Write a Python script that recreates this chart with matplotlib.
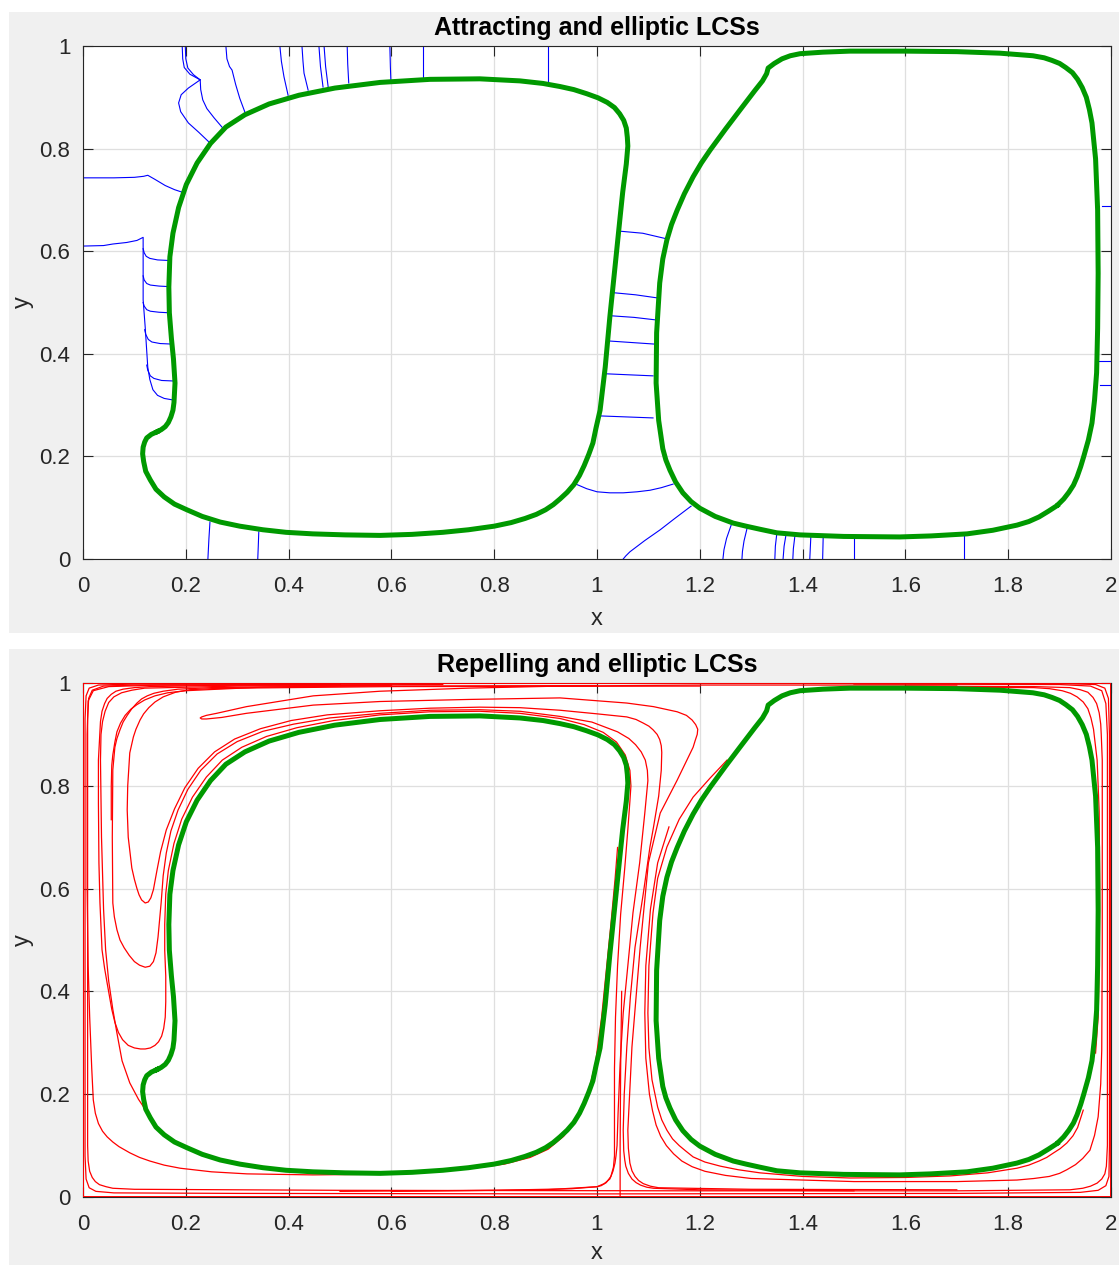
import matplotlib
matplotlib.use('Agg')
import matplotlib.pyplot as plt
from matplotlib.patches import Rectangle

plt.rcParams['font.family'] = ['Liberation Sans', 'DejaVu Sans']

# ---- elliptic LCSs (green closed curves), same in both panels ----
green_left = [(0.144, 0.248), (0.152, 0.252), (0.160, 0.258), (0.166, 0.266), (0.171, 0.277),
              (0.175, 0.290), (0.177, 0.305), (0.179, 0.343), (0.176, 0.390), (0.172, 0.430),
              (0.168, 0.480), (0.167, 0.530), (0.169, 0.589), (0.175, 0.635), (0.186, 0.685),
              (0.201, 0.730), (0.222, 0.772), (0.248, 0.810), (0.278, 0.842), (0.315, 0.866),
              (0.362, 0.887), (0.420, 0.904), (0.490, 0.918), (0.578, 0.929), (0.675, 0.935),
              (0.772, 0.936), (0.850, 0.932), (0.895, 0.927), (0.928, 0.921), (0.955, 0.915),
              (0.980, 0.907), (1.002, 0.899), (1.020, 0.890), (1.034, 0.880), (1.044, 0.868),
              (1.052, 0.855), (1.057, 0.840), (1.059, 0.822), (1.060, 0.805), (1.057, 0.770),
              (1.050, 0.715), (1.045, 0.667), (1.035, 0.569), (1.025, 0.472), (1.016, 0.374),
              (1.006, 0.290), (0.998, 0.255), (0.992, 0.226), (0.984, 0.204), (0.975, 0.182),
              (0.966, 0.163), (0.955, 0.145), (0.942, 0.130), (0.928, 0.117), (0.915, 0.106),
              (0.900, 0.096), (0.882, 0.087), (0.860, 0.079), (0.833, 0.071), (0.800, 0.064),
              (0.750, 0.057), (0.700, 0.052), (0.640, 0.048), (0.578, 0.046), (0.510, 0.047),
              (0.447, 0.049), (0.395, 0.052), (0.350, 0.057), (0.305, 0.064), (0.267, 0.072),
              (0.232, 0.083), (0.202, 0.096), (0.178, 0.107), (0.158, 0.121), (0.142, 0.136),
              (0.131, 0.154), (0.122, 0.171), (0.118, 0.190), (0.116, 0.205), (0.117, 0.218),
              (0.120, 0.228), (0.124, 0.236), (0.133, 0.243), (0.144, 0.248)]
green_right = [(1.895, 0.104), (1.878, 0.093), (1.860, 0.082), (1.840, 0.073), (1.817, 0.066),
               (1.770, 0.056), (1.720, 0.049), (1.650, 0.045), (1.589, 0.043), (1.480, 0.044),
               (1.395, 0.047), (1.350, 0.051), (1.317, 0.058), (1.290, 0.064), (1.265, 0.070),
               (1.230, 0.083), (1.200, 0.099), (1.183, 0.112), (1.167, 0.129), (1.153, 0.150),
               (1.142, 0.173), (1.134, 0.193), (1.128, 0.215), (1.120, 0.270), (1.115, 0.343),
               (1.116, 0.441), (1.122, 0.538), (1.128, 0.585), (1.136, 0.622), (1.145, 0.652),
               (1.156, 0.680), (1.170, 0.712), (1.187, 0.745), (1.203, 0.772), (1.220, 0.797),
               (1.250, 0.838), (1.278, 0.875), (1.307, 0.913), (1.322, 0.932), (1.330, 0.946),
               (1.333, 0.957), (1.345, 0.966), (1.360, 0.975), (1.376, 0.981), (1.395, 0.985),
               (1.440, 0.988), (1.492, 0.990), (1.600, 0.990), (1.700, 0.989), (1.784, 0.986),
               (1.848, 0.981), (1.870, 0.977), (1.885, 0.972), (1.900, 0.966), (1.912, 0.958),
               (1.925, 0.948), (1.935, 0.935), (1.944, 0.919), (1.952, 0.900), (1.958, 0.876),
               (1.963, 0.850), (1.970, 0.780), (1.974, 0.680), (1.975, 0.557), (1.974, 0.450),
               (1.972, 0.363), (1.968, 0.310), (1.963, 0.265), (1.956, 0.232), (1.947, 0.200),
               (1.941, 0.180), (1.934, 0.160), (1.927, 0.144), (1.918, 0.130), (1.908, 0.117),
               (1.898, 0.107)]

# ---- attracting LCSs (blue) ----
blue_top = [
    [(0.193, 1.0), (0.194, 0.975), (0.197, 0.958), (0.208, 0.945), (0.228, 0.934), (0.205, 0.918),
     (0.191, 0.905), (0.186, 0.889), (0.190, 0.872), (0.205, 0.850), (0.225, 0.832), (0.247, 0.811)],
    [(0.199, 1.0), (0.200, 0.975), (0.204, 0.957), (0.215, 0.944), (0.228, 0.934)],
    [(0.228, 0.934), (0.229, 0.915), (0.233, 0.895), (0.241, 0.878), (0.255, 0.860), (0.272, 0.840)],
    [(0.278, 1.0), (0.280, 0.975), (0.285, 0.960), (0.290, 0.953), (0.292, 0.945), (0.297, 0.925),
     (0.305, 0.898), (0.315, 0.871)],
    [(0.383, 1.0), (0.386, 0.970), (0.391, 0.940), (0.399, 0.904)],
    [(0.426, 1.0), (0.428, 0.970), (0.430, 0.947), (0.438, 0.914)],
    [(0.459, 1.0), (0.462, 0.960), (0.467, 0.920)],
    [(0.469, 1.0), (0.472, 0.960), (0.477, 0.920)],
    [(0.514, 1.0), (0.515, 0.965), (0.517, 0.928)],
    [(0.597, 1.0), (0.598, 0.960), (0.599, 0.932)],
    [(0.661, 1.0), (0.661, 0.936)],
    [(0.905, 1.0), (0.905, 0.925)],
]
blue_left = [
    [(0.0, 0.743), (0.06, 0.743), (0.100, 0.744), (0.118, 0.746), (0.126, 0.748), (0.140, 0.740),
     (0.160, 0.728), (0.178, 0.720), (0.193, 0.715)],
    [(0.0, 0.610), (0.04, 0.611), (0.058, 0.614), (0.085, 0.617), (0.105, 0.621), (0.117, 0.627),
     (0.117, 0.600), (0.117, 0.550), (0.117, 0.505), (0.121, 0.452), (0.126, 0.374), (0.130, 0.350),
     (0.136, 0.330), (0.145, 0.319), (0.158, 0.313), (0.175, 0.310)],
    [(0.117, 0.605), (0.119, 0.597), (0.123, 0.590), (0.130, 0.586), (0.145, 0.583), (0.165, 0.582)],
    [(0.117, 0.552), (0.119, 0.544), (0.124, 0.537), (0.131, 0.534), (0.148, 0.532), (0.167, 0.531)],
    [(0.117, 0.500), (0.119, 0.493), (0.124, 0.486), (0.131, 0.483), (0.148, 0.481), (0.167, 0.480)],
    [(0.120, 0.447), (0.122, 0.438), (0.127, 0.428), (0.134, 0.423), (0.150, 0.420), (0.172, 0.419)],
    [(0.124, 0.378), (0.126, 0.368), (0.131, 0.357), (0.138, 0.352), (0.153, 0.348), (0.176, 0.347)],
]
blue_gap = [
    [(1.045, 0.639), (1.089, 0.635), (1.136, 0.624)],
    [(1.033, 0.519), (1.075, 0.515), (1.117, 0.509)],
    [(1.029, 0.474), (1.072, 0.471), (1.115, 0.466)],
    [(1.023, 0.425), (1.067, 0.422), (1.111, 0.419)],
    [(1.018, 0.361), (1.063, 0.359), (1.109, 0.357)],
    [(1.004, 0.279), (1.056, 0.277), (1.109, 0.275)],
    [(0.959, 0.146), (0.980, 0.137), (1.0, 0.131), (1.025, 0.129), (1.051, 0.129), (1.078, 0.131),
     (1.103, 0.134), (1.125, 0.139), (1.148, 0.146)],
    [(1.183, 0.103), (1.150, 0.078), (1.123, 0.057), (1.093, 0.036), (1.064, 0.014), (1.056, 0.006),
     (1.051, 0.0)],
]
blue_bottom = [
    [(0.247, 0.072), (0.245, 0.040), (0.243, 0.0)],
    [(0.342, 0.053), (0.341, 0.025), (0.340, 0.0)],
    [(1.261, 0.066), (1.252, 0.040), (1.247, 0.018), (1.245, 0.0)],
    [(1.292, 0.060), (1.286, 0.035), (1.283, 0.015), (1.282, 0.0)],
    [(1.350, 0.051), (1.347, 0.025), (1.346, 0.0)],
    [(1.368, 0.049), (1.364, 0.025), (1.362, 0.0)],
    [(1.385, 0.045), (1.382, 0.020), (1.381, 0.0)],
    [(1.416, 0.043), (1.414, 0.0)],
    [(1.440, 0.041), (1.439, 0.0)],
    [(1.500, 0.041), (1.500, 0.0)],
    [(1.714, 0.046), (1.714, 0.0)],
]
blue_right = [
    [(1.982, 0.688), (2.0, 0.688)],
    [(1.975, 0.386), (2.0, 0.386)],
    [(1.979, 0.339), (2.0, 0.339)],
]

# ---- repelling LCSs (red) ----
red_border = [[(0, 0), (0, 1)], [(0, 1), (2, 1)], [(2, 1), (2, 0)], [(2, 0), (0, 0)]]
red_loops = [
    [(0.5, 0.998), (0.1, 0.998), (0.03, 0.996), (0.012, 0.99), (0.006, 0.975), (0.004, 0.93),
     (0.004, 0.08), (0.006, 0.035), (0.012, 0.018), (0.025, 0.011), (0.06, 0.008), (0.3, 0.007),
     (1.0, 0.006), (1.7, 0.007), (1.94, 0.009), (1.975, 0.013), (1.99, 0.022), (1.996, 0.04),
     (1.997, 0.1), (1.997, 0.9), (1.995, 0.97), (1.988, 0.99), (1.97, 0.997), (1.9, 0.999), (1.5, 0.999)],
    [(0.6, 0.996), (0.1, 0.996), (0.04, 0.994), (0.018, 0.986), (0.011, 0.97), (0.009, 0.93),
     (0.009, 0.10), (0.010, 0.07), (0.013, 0.05), (0.018, 0.038), (0.024, 0.030), (0.032, 0.024),
     (0.045, 0.020), (0.058, 0.017), (0.10, 0.015), (0.5, 0.013), (1.2, 0.012), (1.7, 0.012),
     (1.92, 0.014), (1.945, 0.017), (1.96, 0.021), (1.973, 0.027), (1.982, 0.035), (1.988, 0.045),
     (1.991, 0.060), (1.993, 0.1), (1.993, 0.9), (1.99, 0.96), (1.982, 0.985), (1.96, 0.994),
     (1.9, 0.997), (1.5, 0.998)],
]
red_left = [
    # curve running down the left wall and along the bottom of the left gyre
    [(0.5, 0.997), (0.15, 0.996), (0.05, 0.993), (0.02, 0.985), (0.010, 0.965), (0.008, 0.9),
     (0.008, 0.6), (0.010, 0.45), (0.013, 0.35), (0.017, 0.25), (0.020, 0.189), (0.024, 0.163),
     (0.030, 0.143), (0.038, 0.128), (0.047, 0.117), (0.058, 0.107), (0.070, 0.098), (0.091, 0.086),
     (0.110, 0.077), (0.130, 0.070), (0.158, 0.062), (0.189, 0.056), (0.250, 0.049), (0.319, 0.045),
     (0.447, 0.043), (0.55, 0.044), (0.65, 0.047), (0.75, 0.055), (0.82, 0.064), (0.87, 0.077),
     (0.905, 0.093), (0.935, 0.118), (0.960, 0.150), (0.982, 0.200), (0.997, 0.260), (1.009, 0.350),
     (1.018, 0.440), (1.027, 0.530), (1.035, 0.617), (1.040, 0.68)],
    # curve merging into the green knob
    [(0.126, 0.163), (0.108, 0.190), (0.091, 0.222), (0.076, 0.265), (0.066, 0.319), (0.058, 0.365),
     (0.050, 0.420), (0.044, 0.481), (0.040, 0.560), (0.036, 0.700), (0.034, 0.850), (0.035, 0.900),
     (0.038, 0.925), (0.043, 0.945), (0.050, 0.962), (0.060, 0.973), (0.075, 0.981), (0.095, 0.986),
     (0.12, 0.990), (0.3, 0.994), (0.6, 0.996)],
    # lowest U (tip near y=0.29)
    [(0.7, 0.997), (0.3, 0.996), (0.13, 0.993), (0.100, 0.991), (0.078, 0.988), (0.064, 0.984),
     (0.055, 0.978), (0.047, 0.970), (0.042, 0.960), (0.037, 0.945), (0.034, 0.925), (0.030, 0.850),
     (0.030, 0.766), (0.031, 0.650), (0.033, 0.572), (0.037, 0.481), (0.042, 0.445), (0.047, 0.416),
     (0.056, 0.365), (0.062, 0.340), (0.069, 0.320), (0.077, 0.306), (0.088, 0.295), (0.100, 0.290),
     (0.112, 0.288), (0.121, 0.288), (0.131, 0.290), (0.140, 0.295), (0.147, 0.302), (0.153, 0.313),
     (0.157, 0.328), (0.160, 0.350), (0.161, 0.380), (0.161, 0.430), (0.159, 0.480), (0.159, 0.530),
     (0.161, 0.590), (0.166, 0.635), (0.177, 0.688), (0.192, 0.735), (0.213, 0.778), (0.240, 0.817),
     (0.271, 0.850), (0.309, 0.875), (0.357, 0.896), (0.416, 0.913), (0.488, 0.927), (0.578, 0.938),
     (0.675, 0.944), (0.772, 0.945), (0.850, 0.941), (0.928, 0.931), (0.975, 0.919), (1.012, 0.904),
     (1.038, 0.885), (1.055, 0.860), (1.064, 0.830), (1.066, 0.800), (1.064, 0.770), (1.060, 0.715),
     (1.054, 0.640), (1.046, 0.550), (1.040, 0.450), (1.036, 0.350), (1.034, 0.250), (1.034, 0.150),
     (1.034, 0.080), (1.032, 0.058), (1.027, 0.040), (1.018, 0.028), (1.008, 0.022), (1.0, 0.020),
     (0.95, 0.016), (0.8, 0.013), (0.5, 0.011)],
    # middle U (tip near y=0.45)
    [(1.0, 0.995), (0.5, 0.994), (0.25, 0.991), (0.185, 0.988), (0.156, 0.984), (0.138, 0.980),
     (0.125, 0.975), (0.114, 0.969), (0.105, 0.961), (0.095, 0.950), (0.086, 0.937), (0.078, 0.924),
     (0.072, 0.909), (0.066, 0.892), (0.062, 0.875), (0.058, 0.831), (0.057, 0.70), (0.058, 0.572),
     (0.061, 0.545), (0.066, 0.520), (0.072, 0.500), (0.080, 0.485), (0.090, 0.470), (0.100, 0.458),
     (0.110, 0.451), (0.121, 0.447), (0.130, 0.449), (0.137, 0.458), (0.142, 0.475), (0.146, 0.506),
     (0.152, 0.572), (0.156, 0.625), (0.162, 0.669), (0.171, 0.712), (0.185, 0.753), (0.204, 0.793),
     (0.229, 0.830), (0.261, 0.862), (0.300, 0.886), (0.350, 0.906), (0.410, 0.920), (0.480, 0.932),
     (0.578, 0.941), (0.675, 0.947), (0.772, 0.948), (0.850, 0.945), (0.928, 0.935), (0.990, 0.924),
     (1.040, 0.905), (1.062, 0.892), (1.075, 0.880), (1.086, 0.866), (1.094, 0.850), (1.098, 0.830),
     (1.099, 0.810), (1.093, 0.747), (1.083, 0.650), (1.070, 0.553), (1.060, 0.450), (1.051, 0.358),
     (1.045, 0.260), (1.041, 0.163), (1.039, 0.100), (1.037, 0.080), (1.035, 0.066), (1.031, 0.050),
     (1.025, 0.035), (1.014, 0.026), (1.0, 0.020), (0.9, 0.014), (0.6, 0.011)],
    # upper U (tip near y=0.57)
    [(1.2, 0.994), (0.6, 0.993), (0.30, 0.990), (0.250, 0.989), (0.208, 0.987), (0.180, 0.982),
     (0.156, 0.973), (0.140, 0.963), (0.128, 0.952), (0.118, 0.940), (0.111, 0.928), (0.103, 0.910),
     (0.098, 0.895), (0.091, 0.864), (0.087, 0.800), (0.086, 0.753), (0.088, 0.700), (0.095, 0.640),
     (0.100, 0.618), (0.105, 0.600), (0.109, 0.588), (0.114, 0.578), (0.121, 0.572), (0.127, 0.574),
     (0.132, 0.582), (0.137, 0.598), (0.144, 0.636), (0.151, 0.672), (0.162, 0.714), (0.178, 0.755),
     (0.198, 0.796), (0.224, 0.834), (0.256, 0.866), (0.295, 0.891), (0.345, 0.911), (0.405, 0.927),
     (0.475, 0.938), (0.578, 0.946), (0.675, 0.951), (0.772, 0.953), (0.850, 0.952), (0.928, 0.947),
     (1.000, 0.940), (1.058, 0.934), (1.076, 0.929), (1.090, 0.922), (1.101, 0.916), (1.109, 0.909),
     (1.117, 0.900), (1.122, 0.890), (1.125, 0.878), (1.126, 0.865), (1.125, 0.830), (1.120, 0.780),
     (1.110, 0.720), (1.103, 0.681), (1.090, 0.590), (1.074, 0.486), (1.065, 0.390), (1.058, 0.292),
     (1.053, 0.200), (1.051, 0.130), (1.052, 0.090), (1.054, 0.072), (1.056, 0.060), (1.061, 0.046),
     (1.068, 0.035), (1.076, 0.028), (1.085, 0.023), (1.097, 0.019), (1.110, 0.017), (1.2, 0.014),
     (1.5, 0.012)],
    # short free-ended curve near the left wall
    [(0.055, 0.734), (0.055, 0.800), (0.056, 0.840), (0.058, 0.860), (0.062, 0.885), (0.066, 0.905),
     (0.073, 0.922), (0.082, 0.937), (0.093, 0.949), (0.105, 0.958), (0.120, 0.967), (0.140, 0.975),
     (0.165, 0.981), (0.200, 0.985), (0.350, 0.992), (0.600, 0.995)],
]
red_tongue = [
    [(1.7, 0.996), (1.5, 0.996), (1.2, 0.996), (0.928, 0.994), (0.750, 0.990), (0.578, 0.984),
     (0.448, 0.975), (0.318, 0.954), (0.260, 0.941), (0.240, 0.937), (0.231, 0.934), (0.228, 0.932),
     (0.231, 0.930), (0.240, 0.930), (0.270, 0.933), (0.318, 0.941), (0.448, 0.957), (0.578, 0.964),
     (0.750, 0.968), (0.928, 0.971), (1.058, 0.961), (1.110, 0.954), (1.156, 0.944), (1.174, 0.937),
     (1.185, 0.928), (1.192, 0.919), (1.196, 0.910), (1.195, 0.900), (1.191, 0.888), (1.187, 0.875),
     (1.156, 0.811), (1.123, 0.747), (1.100, 0.650), (1.084, 0.486), (1.068, 0.292), (1.060, 0.130),
     (1.061, 0.095), (1.064, 0.066), (1.068, 0.051), (1.074, 0.040), (1.081, 0.032), (1.090, 0.026),
     (1.104, 0.021), (1.12, 0.018), (1.3, 0.015), (1.7, 0.014)],
    [(1.045, 0.0), (1.045, 0.100), (1.046, 0.250), (1.048, 0.400)],
]
red_right = [
    [(1.253, 0.850), (1.220, 0.815), (1.187, 0.778), (1.160, 0.735), (1.136, 0.681), (1.118, 0.620),
     (1.109, 0.553), (1.101, 0.450), (1.099, 0.358), (1.101, 0.290), (1.107, 0.228), (1.118, 0.175),
     (1.126, 0.150), (1.136, 0.130), (1.147, 0.113), (1.160, 0.100), (1.172, 0.090), (1.187, 0.078),
     (1.210, 0.068), (1.240, 0.060), (1.275, 0.053), (1.317, 0.047), (1.400, 0.040), (1.492, 0.037),
     (1.600, 0.038), (1.687, 0.041), (1.760, 0.047), (1.817, 0.056), (1.840, 0.062), (1.860, 0.070),
     (1.875, 0.077), (1.887, 0.085), (1.901, 0.094), (1.914, 0.105), (1.926, 0.119), (1.935, 0.135),
     (1.946, 0.169)],
    [(1.140, 0.720), (1.118, 0.650), (1.104, 0.560), (1.095, 0.450), (1.093, 0.358), (1.095, 0.270),
     (1.102, 0.200), (1.108, 0.168), (1.115, 0.140), (1.124, 0.118), (1.135, 0.100), (1.149, 0.084),
     (1.165, 0.070), (1.185, 0.059), (1.210, 0.050), (1.250, 0.042), (1.300, 0.036), (1.500, 0.030),
     (1.700, 0.030), (1.817, 0.033), (1.850, 0.036), (1.880, 0.040), (1.900, 0.046), (1.914, 0.053),
     (1.931, 0.063), (1.945, 0.075), (1.959, 0.091), (1.968, 0.120), (1.975, 0.156), (1.980, 0.220),
     (1.982, 0.286), (1.983, 0.500), (1.983, 0.850), (1.981, 0.900), (1.980, 0.920), (1.977, 0.942),
     (1.972, 0.960), (1.965, 0.972), (1.955, 0.982), (1.940, 0.987), (1.920, 0.991), (1.850, 0.993),
     (1.600, 0.994)],
    [(1.5, 0.992), (1.85, 0.991), (1.880, 0.989), (1.905, 0.985), (1.921, 0.980), (1.934, 0.973),
     (1.946, 0.963), (1.955, 0.950), (1.961, 0.932), (1.966, 0.910), (1.973, 0.850), (1.977, 0.750),
     (1.978, 0.600), (1.977, 0.450), (1.975, 0.350), (1.970, 0.280)],
]

xticks = [0, 0.2, 0.4, 0.6, 0.8, 1, 1.2, 1.4, 1.6, 1.8, 2]
xticklabels = ['0', '0.2', '0.4', '0.6', '0.8', '1', '1.2', '1.4', '1.6', '1.8', '2']
yticks = [0, 0.2, 0.4, 0.6, 0.8, 1]
yticklabels = ['0', '0.2', '0.4', '0.6', '0.8', '1']

W, H = 1119, 1265
fig = plt.figure(figsize=(W / 100, H / 100), dpi=100, facecolor='white')

# grey figure backgrounds (two stacked figures)
fig.add_artist(Rectangle((9 / W, 1 - 633 / H), 1110 / W, 621 / H, transform=fig.transFigure,
                         facecolor='#f0f0f0', edgecolor='none', zorder=0))
fig.add_artist(Rectangle((9 / W, 0), 1110 / W, 616 / H, transform=fig.transFigure,
                         facecolor='#f0f0f0', edgecolor='none', zorder=0))

ax1 = fig.add_axes([83 / W, 1 - 559 / H, 1028 / W, 513 / H])
ax2 = fig.add_axes([83 / W, 1 - 1197 / H, 1028 / W, 514 / H])


def draw(ax, curves, color, lw, z=2):
    for c in curves:
        xs = [p[0] for p in c]
        ys = [p[1] for p in c]
        ax.plot(xs, ys, color=color, lw=lw, zorder=z, solid_joinstyle='round')


def style(ax, title, xpad):
    ax.set_xlim(0, 2)
    ax.set_ylim(0, 1)
    ax.set_xticks(xticks)
    ax.set_xticklabels(xticklabels)
    ax.set_yticks(yticks)
    ax.set_yticklabels(yticklabels)
    ax.grid(True, color='#dfdfdf', lw=0.9)
    ax.set_axisbelow(True)
    ax.tick_params(direction='in', length=7, width=0.8, top=True, right=True,
                   labelsize=16, colors='#262626')
    ax.tick_params(axis='x', pad=12)
    ax.tick_params(axis='y', pad=9)
    for s in ax.spines.values():
        s.set_color('#262626')
        s.set_linewidth(0.8)
    ax.set_title(title, fontsize=18, fontweight='bold', color='black', pad=8)
    ax.set_xlabel('x', fontsize=17, color='#262626', labelpad=xpad)
    ax.set_ylabel('y', fontsize=17, color='#262626', labelpad=4)


green = '#009900'

draw(ax1, blue_top + blue_left + blue_gap + blue_bottom + blue_right, 'blue', 0.8)
draw(ax1, [green_left], green, 3.6, z=4)
draw(ax1, [green_right], green, 3.6, z=4)
style(ax1, 'Attracting and elliptic LCSs', 8)

draw(ax2, red_loops + red_left + red_tongue + red_right, 'red', 0.9)
draw(ax2, red_border, 'red', 1.4, z=3)
draw(ax2, [green_left], green, 3.6, z=4)
draw(ax2, [green_right], green, 3.6, z=4)
style(ax2, 'Repelling and elliptic LCSs', 5)

fig.savefig('out.png', dpi=100, facecolor=fig.get_facecolor())
